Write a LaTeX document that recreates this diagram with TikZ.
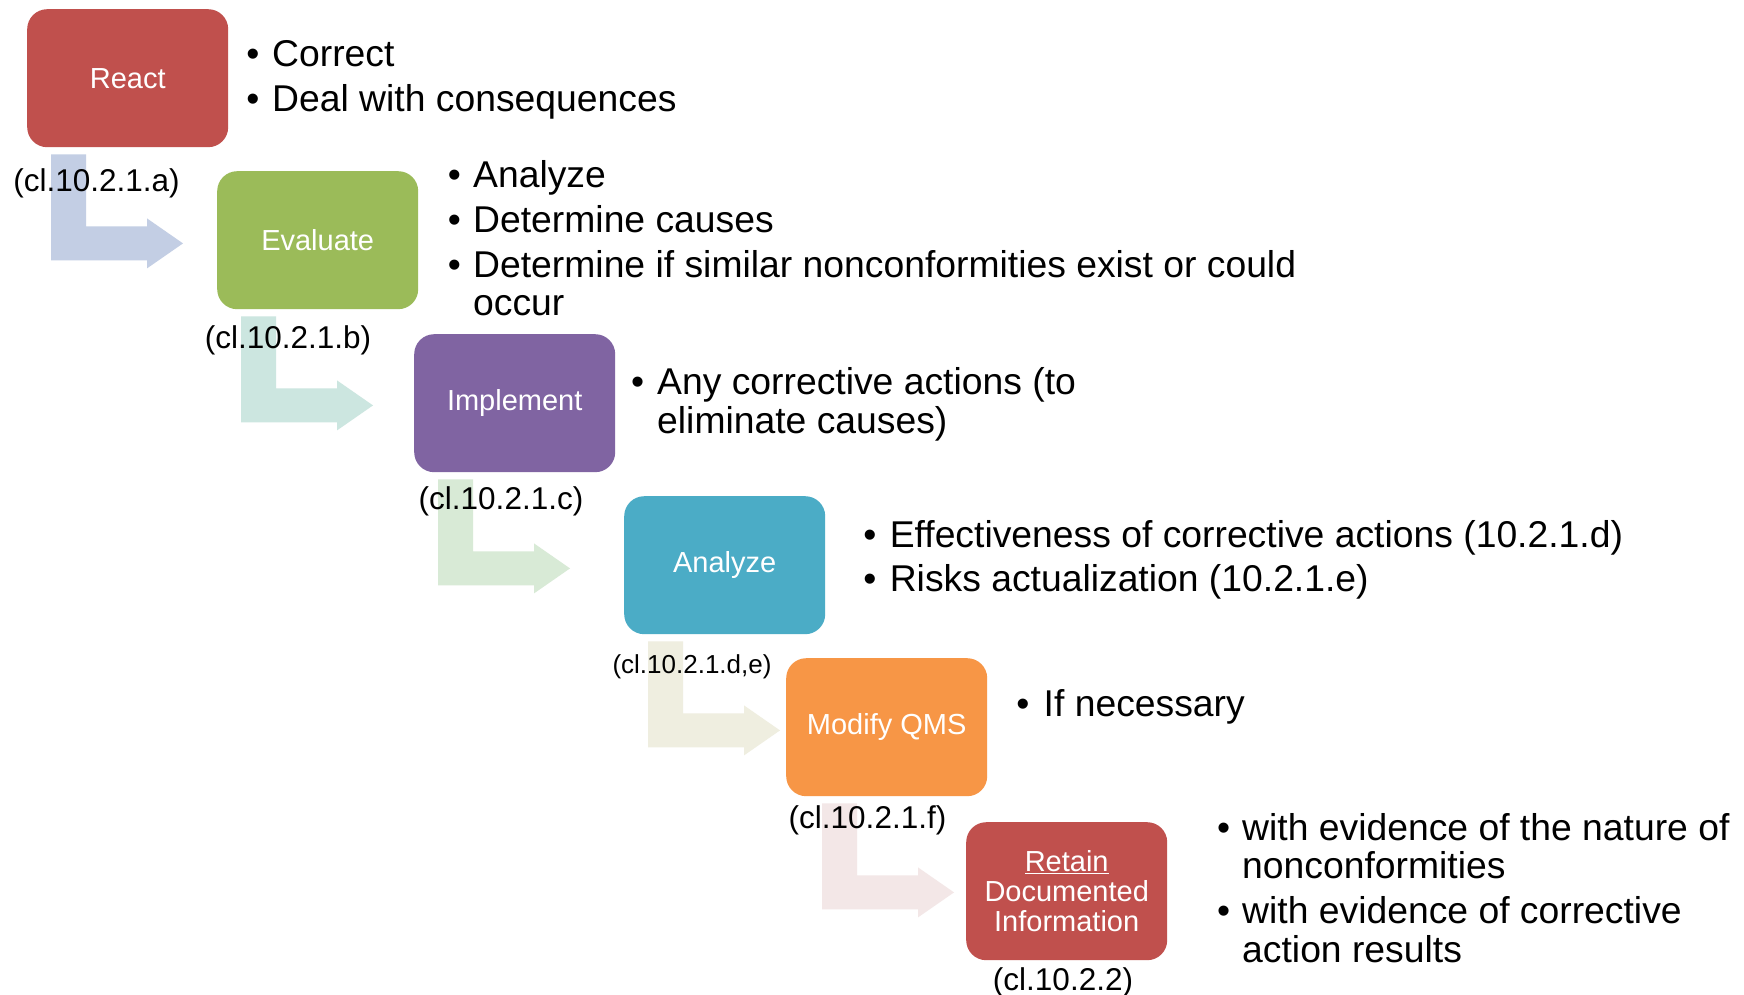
\documentclass[tikz,border=0pt]{standalone}
\usepackage{fontspec}
\setmainfont{Liberation Sans}
\definecolor{cRed}{HTML}{C0504D}
\definecolor{cGreen}{HTML}{9BBB59}
\definecolor{cPurple}{HTML}{8064A2}
\definecolor{cAqua}{HTML}{4BACC6}
\definecolor{cOrange}{HTML}{F79646}
\definecolor{aBlue}{HTML}{C3CEE4}
\definecolor{aTeal}{HTML}{CCE6E0}
\definecolor{aGreen}{HTML}{D8EAD6}
\definecolor{aBeige}{HTML}{EFEEE0}
\definecolor{aPink}{HTML}{F3E7E7}
\newcommand\bentarr[2]{\fill[#1,shift={(#2)}] (0,0) -- (35,0) -- (35,72) -- (96,72) -- (96,64) -- (132,89) -- (96,114) -- (96,106) -- (0,106) -- cycle;}
\begin{document}
\begin{tikzpicture}[x=1pt,y=-1pt,
  box/.style={rounded corners=20pt, minimum width=201pt, minimum height=138pt, inner sep=0pt,
    text=white, font=\fontsize{29}{30}\selectfont, align=center, anchor=north west},
  lbl/.style={inner sep=0pt, anchor=base, font=\fontsize{31.5}{31.5}\selectfont},
  slbl/.style={inner sep=0pt, anchor=base, font=\fontsize{26}{26}\selectfont},
  bt/.style={inner sep=0pt, anchor=base west, font=\fontsize{37.3}{37.3}\selectfont},
  bd/.style={inner sep=0pt, anchor=base, font=\fontsize{37.3}{37.3}\selectfont}]
\useasboundingbox (0,0) rectangle (1744,995);
\fill[white] (0,0) rectangle (1744,995);
% boxes
\node[box, fill=cRed] (react) at (27,9) {React};
\node[box, fill=cGreen] (evaluate) at (217,171) {Evaluate};
\node[box, fill=cPurple] (implement) at (414,334) {Implement};
\node[box, fill=cAqua] (analyze) at (624,496) {Analyze};
\node[box, fill=cOrange] (modify) at (786,658) {Modify QMS};
\node[box, fill=cRed] (retain) at (966,822) {\underline{Retain}\\Documented\\Information};
% arrow origins
\coordinate (a1) at ([xshift=24pt,yshift=-7pt]react.south west);
\coordinate (a2) at ([xshift=24pt,yshift=-7pt]evaluate.south west);
\coordinate (a3) at ([xshift=24pt,yshift=-7pt]implement.south west);
\coordinate (a4) at ([xshift=24pt,yshift=-7pt]analyze.south west);
\coordinate (a5) at ([xshift=36pt,yshift=-7pt]modify.south west);
\bentarr{aBlue}{a1}
\bentarr{aTeal}{a2}
\bentarr{aGreen}{a3}
\bentarr{aBeige}{a4}
\bentarr{aPink}{a5}
% clause labels
\node[lbl] (la) at (96.5,192) {(cl.10.2.1.a)};
\node[lbl] (lb) at (288,348) {(cl.10.2.1.b)};
\node[lbl] (lc) at (501,509) {(cl.10.2.1.c)};
\node[slbl] (ld) at (692,673) {(cl.10.2.1.d,e)};
\node[lbl] (lf) at (867.5,828) {(cl.10.2.1.f)};
\node[lbl] (lg) at (1063,990) {(cl.10.2.2)};
% bullet block 1
\node[bd] (b1a) at (253,67) {\textbullet};
\node[bt] (t1a) at (272,67) {Correct};
\node[bd] (b1b) at (253,112) {\textbullet};
\node[bt] (t1b) at (272,112) {Deal with consequences};
% block 2
\node[bd] (b2a) at (454.5,188) {\textbullet};
\node[bt] (t2a) at (473,188) {Analyze};
\node[bd] (b2b) at (454.5,232) {\textbullet};
\node[bt] (t2b) at (473,232) {Determine causes};
\node[bd] (b2c) at (454.5,277) {\textbullet};
\node[bt] (t2c) at (473,277) {Determine if similar nonconformities exist or could};
\node[bt] (t2d) at (473,315) {occur};
% block 3
\node[bd] (b3a) at (637.6,394) {\textbullet};
\node[bt] (t3a) at (657,394) {Any corrective actions (to};
\node[bt] (t3b) at (657,433) {eliminate causes)};
% block 4
\node[bd] (b4a) at (870,547) {\textbullet};
\node[bt] (t4a) at (889.6,547) {Effectiveness of corrective actions (10.2.1.d)};
\node[bd] (b4b) at (870,591) {\textbullet};
\node[bt] (t4b) at (889.6,591) {Risks actualization (10.2.1.e)};
% block 5
\node[bd] (b5a) at (1023,716) {\textbullet};
\node[bt] (t5a) at (1043.5,716) {If necessary};
% block 6
\node[bd] (b6a) at (1223.6,840) {\textbullet};
\node[bt] (t6a) at (1242,840) {with evidence of the nature of};
\node[bt] (t6b) at (1242,878) {nonconformities};
\node[bd] (b6b) at (1223.6,923) {\textbullet};
\node[bt] (t6c) at (1242,923) {with evidence of corrective};
\node[bt] (t6d) at (1242,962) {action results};
\end{tikzpicture}
\end{document}
